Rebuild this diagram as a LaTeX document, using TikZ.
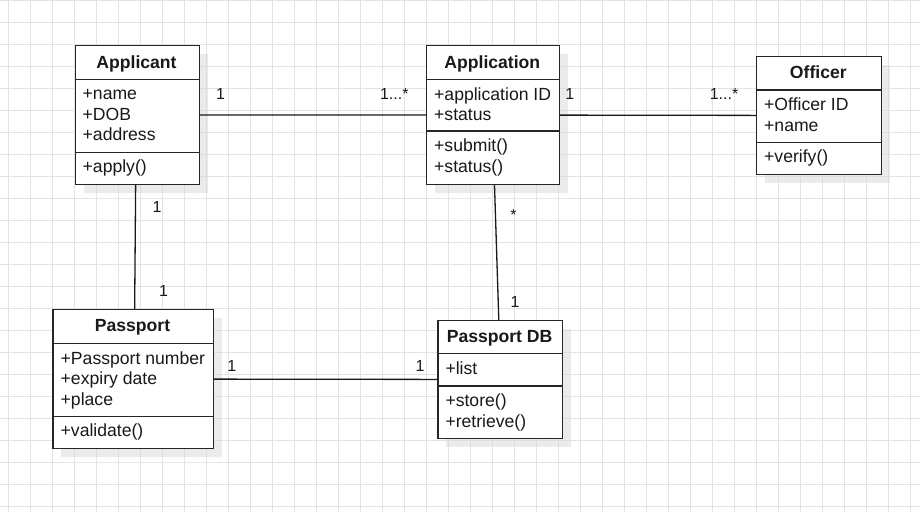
\documentclass[tikz,border=0pt]{standalone}
\usepackage{fontspec}
\setmainfont{Liberation Sans}
\usetikzlibrary{shadows}

\begin{document}
\begin{tikzpicture}[x=1pt,y=-1pt,
  cls/.style={draw=black!85,line width=1.3pt,fill=white,anchor=north west,inner sep=0pt,drop shadow={shadow xshift=8.5pt,shadow yshift=-8.5pt,fill=black!15,opacity=.5}},
  sep/.style={draw=black!85,line width=1.3pt},
  title/.style={font=\fontsize{17.6}{20.5}\selectfont\bfseries,text=black!90,anchor=base,inner sep=0pt},
  member/.style={font=\fontsize{17.6}{20.5}\selectfont,text=black!90,anchor=base west,align=left,inner sep=0pt},
  mult/.style={font=\fontsize{16}{19}\selectfont,text=black!90,inner sep=0pt},
  assoc/.style={draw=black!90,line width=1.3pt},
  gridline/.style={draw=black!11,line width=1.1pt}]
\useasboundingbox[fill=white] (0,0) rectangle (920,512);
% background grid
\foreach \x in {8.3,30.3,...,920} \draw[gridline] (\x,0) -- (\x,512);
\foreach \y in {0.7,22.7,...,512} \draw[gridline] (0,\y) -- (920,\y);

% Applicant (member nodes sit on the baseline of their last line)
\node[cls,minimum width=124pt,minimum height=138.5pt] (applicant) at (74.5,45) {};
\draw[sep] (74.5,79.3) -- (198.5,79.3);
\draw[sep] (74.5,152.3) -- (198.5,152.3);
\node[title] (applicant-name) at (136.5,68) {Applicant};
\node[member] (applicant-attr) at (82.5,140.5) {+name\\+DOB\\+address};
\node[member] (applicant-op) at (82.5,172) {+apply()};

% Application
\node[cls,minimum width=132.7pt,minimum height=138.7pt] (application) at (426,45) {};
\draw[sep] (426,79.3) -- (558.7,79.3);
\draw[sep] (426,131) -- (558.7,131);
\node[title] (application-name) at (492.3,68) {Application};
\node[member] (application-attr) at (434,120.8) {+application ID\\+status};
\node[member] (application-op) at (434,172.2) {+submit()\\+status()};

% Officer
\node[cls,minimum width=124.7pt,minimum height=118.3pt] (officer) at (756,55.7) {};
\draw[sep] (756,90) -- (880.7,90);
\draw[sep] (756,142.7) -- (880.7,142.7);
\node[title] (officer-name) at (818.3,78.5) {Officer};
\node[member] (officer-attr) at (764,131.2) {+Officer ID\\+name};
\node[member] (officer-op) at (764,162.5) {+verify()};

% Passport
\node[cls,minimum width=160.4pt,minimum height=138.7pt] (passport) at (52.3,309) {};
\draw[sep] (52.3,343.3) -- (212.7,343.3);
\draw[sep] (52.3,416.7) -- (212.7,416.7);
\node[title] (passport-name) at (132.5,331.7) {Passport};
\node[member] (passport-attr) at (60.5,405) {+Passport number\\+expiry date\\+place};
\node[member] (passport-op) at (60.5,436.7) {+validate()};

% Passport DB
\node[cls,minimum width=124.7pt,minimum height=117.7pt] (passportdb) at (437.3,320) {};
\draw[sep] (437.3,353.3) -- (562,353.3);
\draw[sep] (437.3,386) -- (562,386);
\node[title] (passportdb-name) at (499.6,342.7) {Passport DB};
\node[member] (passportdb-attr) at (445.3,374) {+list};
\node[member] (passportdb-op) at (445.3,427.2) {+store()\\+retrieve()};

% associations
\draw[assoc] (applicant) -- (application);
\draw[assoc] (application) -- (officer);
\draw[assoc] ([xshift=-1.5pt]applicant.south) -- ([xshift=1.5pt]passport.north);
\draw[assoc] ([xshift=1.5pt]application.south) -- ([xshift=-1.5pt]passportdb.north);
\draw[assoc] (passport) -- (passportdb);

% multiplicities
\node[mult] (m-applicant-r) at (220.5,93.5) {1};
\node[mult] (m-application-l) at (394.3,93.5) {1...*};
\node[mult] (m-application-r) at (569.7,94) {1};
\node[mult] (m-officer-l) at (724,93.5) {1...*};
\node[mult] (m-applicant-b) at (157,207) {1};
\node[mult] (m-passport-t) at (163.5,291) {1};
\node[mult] (m-application-b) at (513.5,215) {*};
\node[mult] (m-passportdb-t) at (515,302) {1};
\node[mult] (m-passport-r) at (231.7,365.5) {1};
\node[mult] (m-passportdb-l) at (420,365.5) {1};
\end{tikzpicture}
\end{document}
